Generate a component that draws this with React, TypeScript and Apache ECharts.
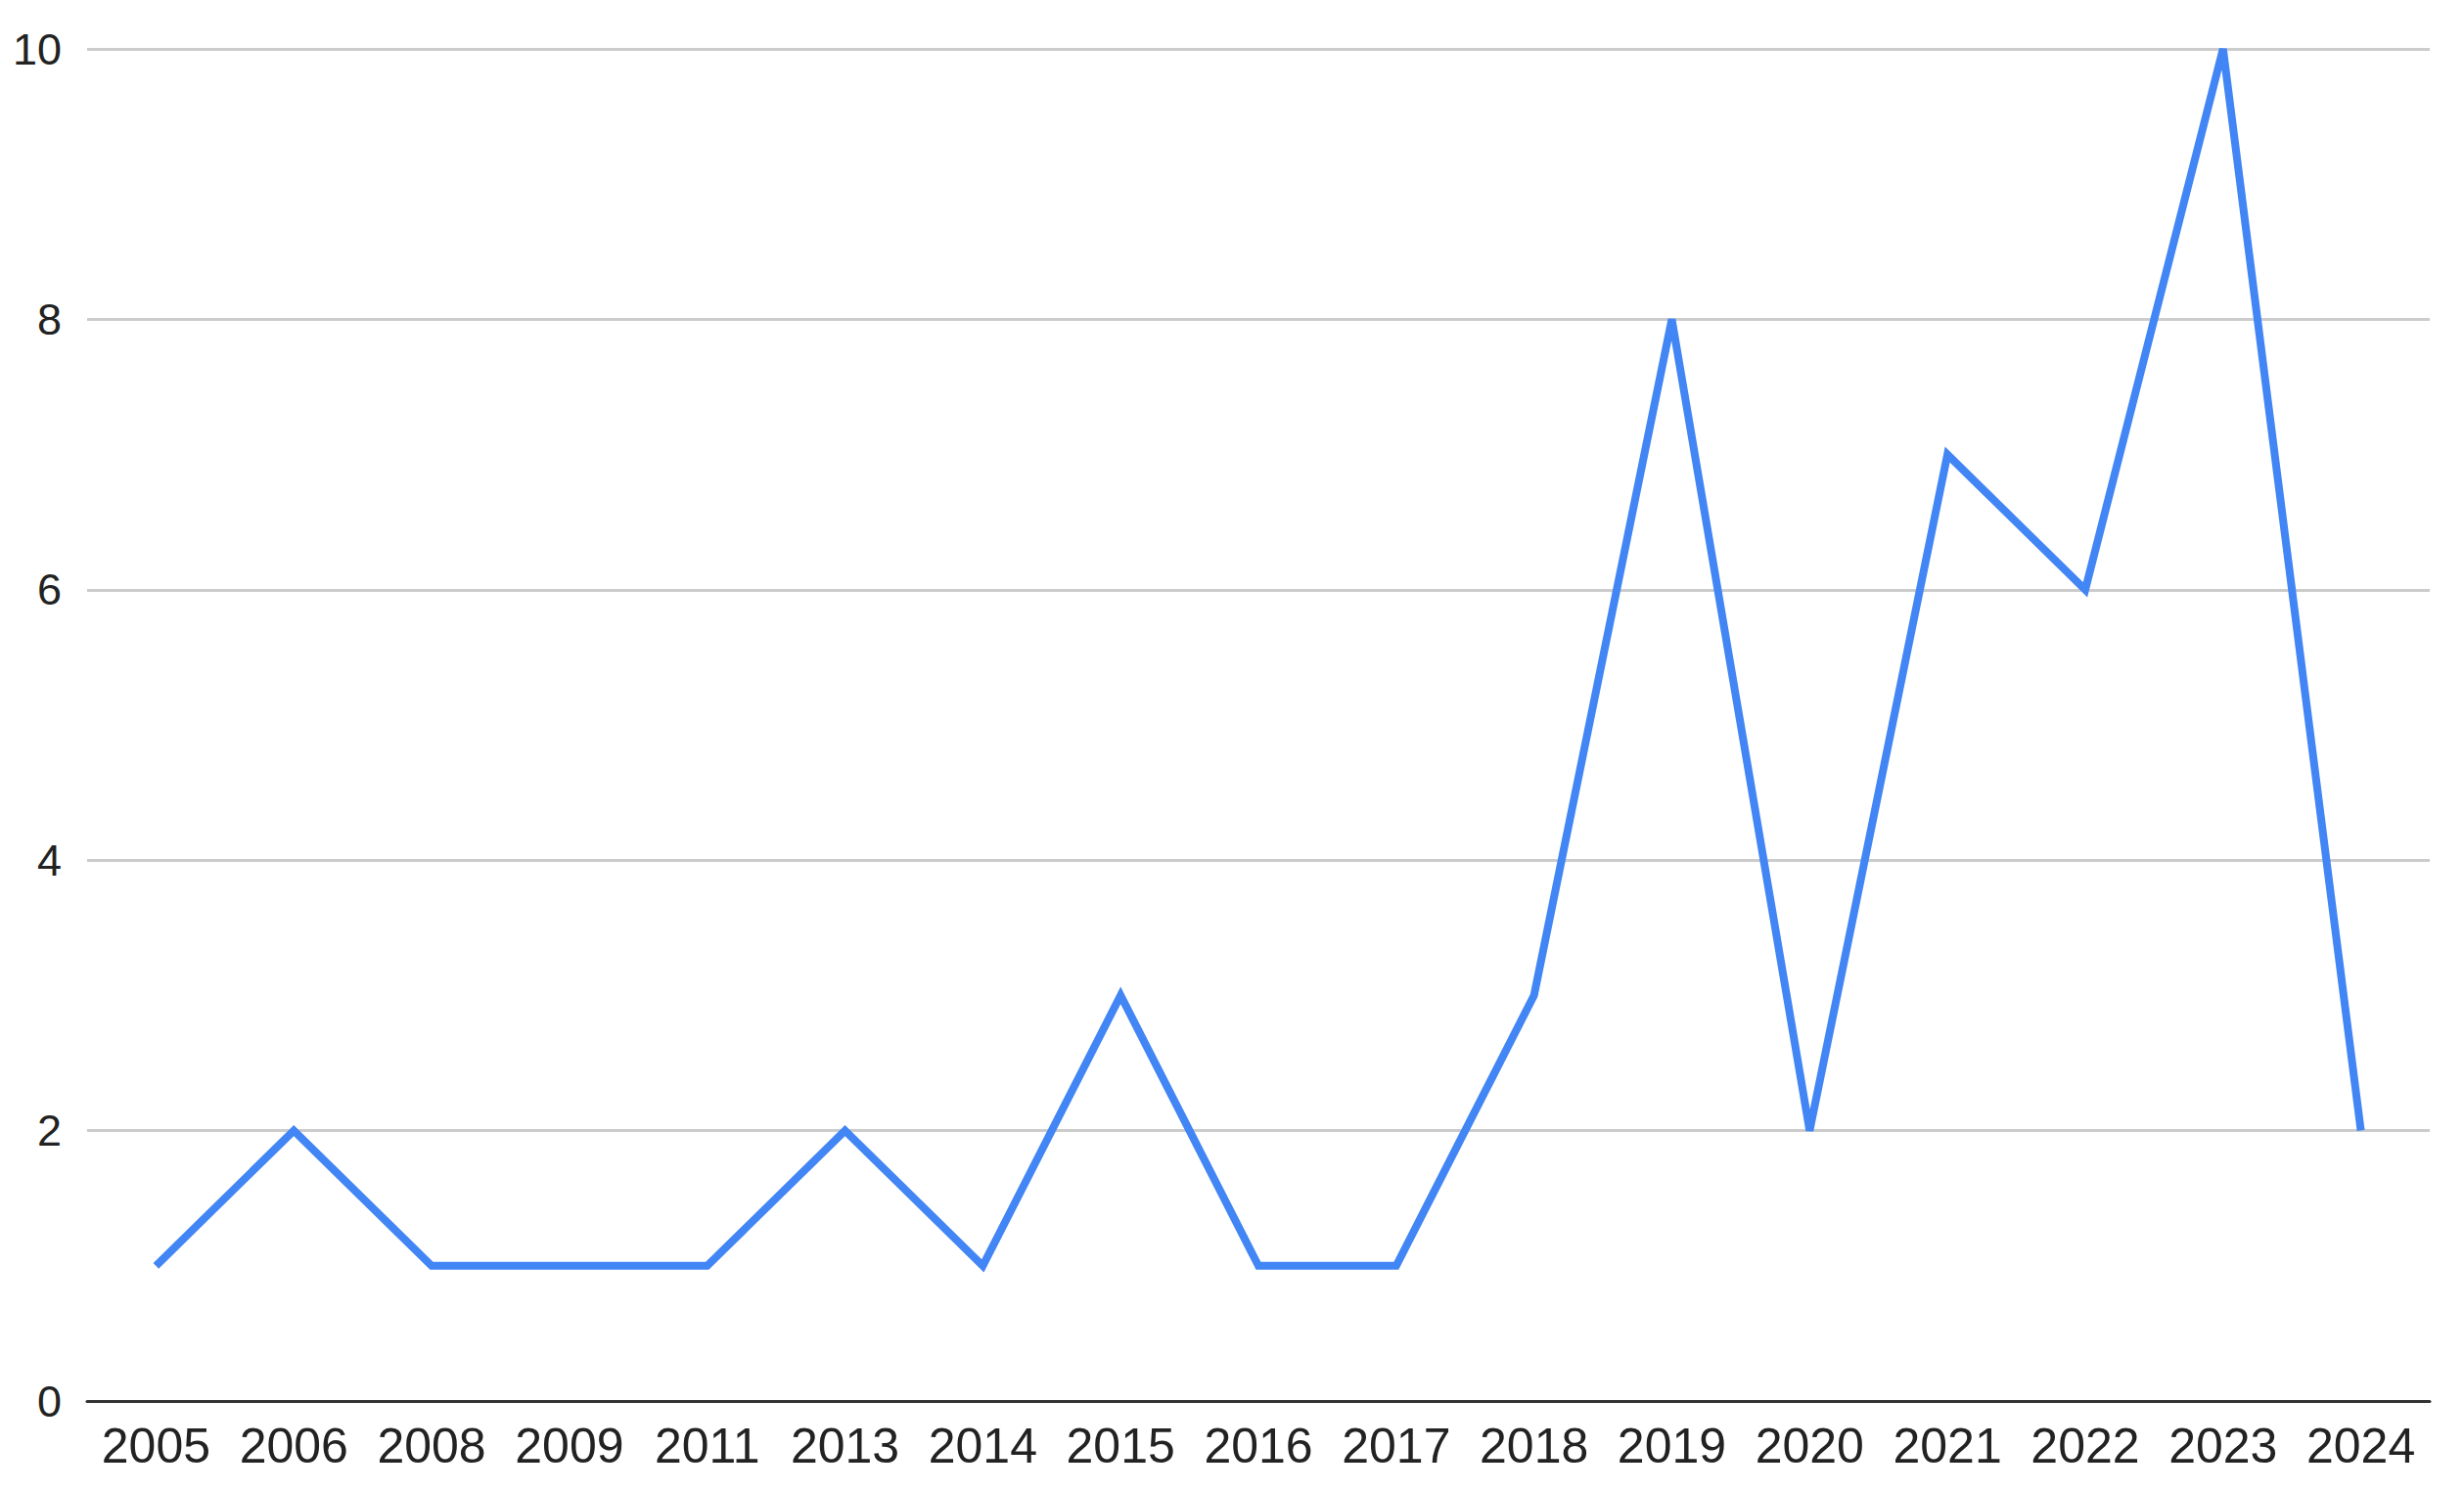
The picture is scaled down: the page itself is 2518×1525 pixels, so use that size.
import React, { useEffect, useRef } from "react";
import * as echarts from "echarts";

const years = ["2005", "2006", "2008", "2009", "2011", "2013", "2014", "2015", "2016", "2017", "2018", "2019", "2020", "2021", "2022", "2023", "2024"];
const counts = [1, 2, 1, 1, 1, 2, 1, 3, 1, 1, 3, 8, 2, 7, 6, 10, 2];
const yTicks = [0, 2, 4, 6, 8, 10];

export default function App() {
  const ref = useRef<HTMLDivElement>(null);
  useEffect(() => {
    if (!ref.current) return;
    const chart = echarts.init(ref.current, null, { renderer: "svg" });
    chart.setOption({
      animation: false,
      backgroundColor: "#ffffff",
      grid: { left: 89, right: 35, top: 50, bottom: 93, containLabel: false },
      xAxis: {
        type: "category",
        data: years,
        boundaryGap: true,
        axisLine: { show: true, lineStyle: { color: "#333333", width: 3 } },
        axisTick: { show: false },
        axisLabel: {
          color: "#222222",
          fontFamily: "Liberation Sans, Arial, sans-serif",
          fontSize: 50,
          margin: 21,
          interval: 0,
        },
      },
      yAxis: {
        type: "value",
        min: yTicks[0],
        max: yTicks[yTicks.length - 1],
        interval: 2,
        axisLine: { show: false },
        axisTick: { show: false },
        splitLine: { lineStyle: { color: "#cccccc", width: 3 } },
        axisLabel: {
          color: "#222222",
          fontFamily: "Liberation Sans, Arial, sans-serif",
          fontSize: 45,
          margin: 26,
        },
      },
      series: [
        {
          type: "line",
          data: counts,
          showSymbol: false,
          symbol: "none",
          lineStyle: { color: "#4285F4", width: 8, join: "miter", miterLimit: 10, cap: "butt" },
          itemStyle: { color: "#4285F4" },
        },
      ],
    });
    return () => chart.dispose();
  }, []);
  return (
    <div
      ref={ref}
      style={{ position: "fixed", left: 0, top: 0, width: 2518, height: 1525, background: "#fff" }}
    />
  );
}
